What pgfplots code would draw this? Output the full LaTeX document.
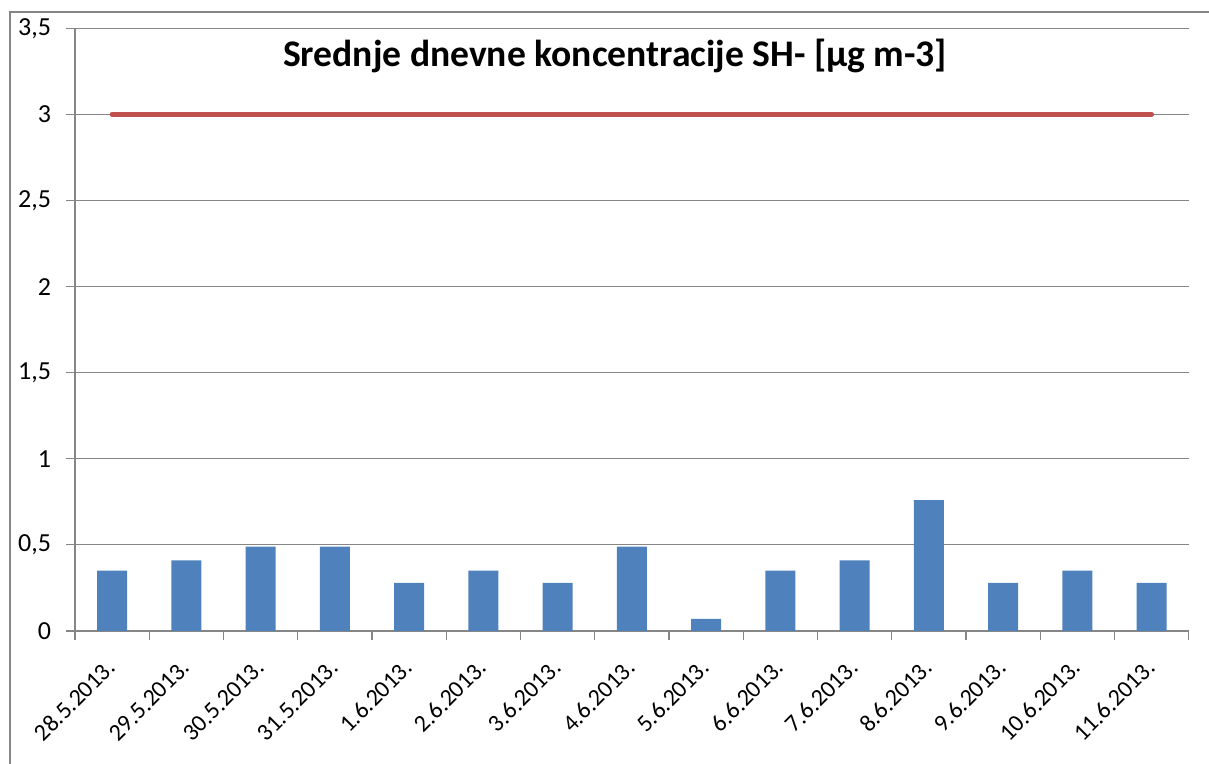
\documentclass[border=0pt]{standalone}
\usepackage{fontspec}
\setmainfont{Carlito}
\usepackage{pgfplots}
\pgfplotsset{compat=1.18}
\definecolor{barblue}{HTML}{4F81BD}
\definecolor{linered}{HTML}{C0504D}
\definecolor{gridgray}{HTML}{868686}
\begin{document}
\begin{tikzpicture}
\path[use as bounding box] (0,0) rectangle (604.5pt,382pt);
\draw[gridgray, line width=0.6pt] (5pt,0) -- (5pt,376pt) -- (604.5pt,376pt);
\begin{axis}[
  at={(37.5pt,66.5pt)}, anchor=south west,
  scale only axis, width=556.85pt, height=301.35pt,
  xmin=-0.5, xmax=14.5, ymin=0, ymax=3.5,
  axis x line=bottom, axis y line=left,
  axis line style={-, gridgray, line width=0.6pt},
  ytick={0,0.5,...,3.5},
  ymajorgrids, grid style={gridgray, line width=0.6pt},
  tick align=outside,
  major tick length=4.5pt, minor tick length=4.5pt,
  tick style={gridgray, line width=0.6pt},
  major x tick style={draw=none},
  xtick={0,...,14},
  minor xtick={-0.5,0.5,...,14.5},
  xticklabels={28.5.2013.,29.5.2013.,30.5.2013.,31.5.2013.,1.6.2013.,2.6.2013.,3.6.2013.,4.6.2013.,5.6.2013.,6.6.2013.,7.6.2013.,8.6.2013.,9.6.2013.,10.6.2013.,11.6.2013.},
  xticklabel style={inner sep=0pt, font=\fontsize{12pt}{14pt}\selectfont, xshift=2.5pt, yshift=-14.5pt, rotate=45, anchor=base east},
  yticklabel style={font=\fontsize{13pt}{15pt}\selectfont, xshift=-4pt},
  /pgf/number format/assume math mode=true,
  /pgf/number format/use comma,
  title={Srednje dnevne koncentracije SH- [µg m-3]},
  title style={at={(0.485,0.935)}, anchor=center, font=\fontsize{18.8pt}{22pt}\selectfont\bfseries},
  clip=false,
]
\addplot[ybar, bar width=15pt, fill=barblue, draw=none] coordinates {
(0,0.35) (1,0.41) (2,0.49) (3,0.49) (4,0.28) (5,0.35) (6,0.28) (7,0.49) (8,0.07) (9,0.35) (10,0.41) (11,0.76) (12,0.28) (13,0.35) (14,0.28)};
\addplot[linered, line width=2.5pt, line cap=round] coordinates {(0,3) (14,3)};
\end{axis}
\end{tikzpicture}
\end{document}
